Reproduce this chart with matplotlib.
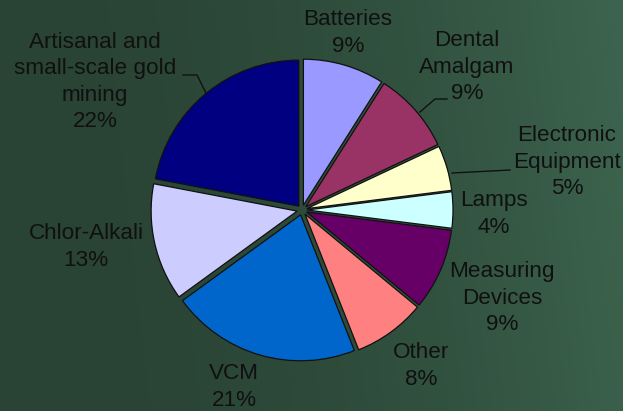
import numpy as np
import matplotlib
matplotlib.use("Agg")
import matplotlib.pyplot as plt

# ---- data ----
categories = ["Batteries", "Dental\nAmalgam", "Electronic\nEquipment", "Lamps",
              "Measuring\nDevices", "Other", "VCM", "Chlor-Alkali",
              "Artisanal and\nsmall-scale gold\nmining"]
values = [9, 9, 5, 4, 9, 8, 21, 13, 22]
colors = ["#9999FF", "#993366", "#FFFFCC", "#CCFFFF", "#660066",
          "#FF8080", "#0066CC", "#CCCCFF", "#000080"]

# ---- layout (pixel coordinates, y from top) ----
W, H = 623, 411
label_pos_px = [(348, 33), (467, 67), (567, 162), (494, 214), (502, 298),
                (421, 366), (234, 387), (86, 247), (95, 82)]
leaders_px = {
    "Artisanal": [(183, 75), (197, 75), (206, 93)],
    "Dental": [(447, 99), (435, 99), (420, 112)],
    "Electronic": [(510, 170), (452, 173)],
}

def px(x, y):
    return x, H - y

fig = plt.figure(figsize=(W / 100, H / 100), dpi=100)
ax = fig.add_axes([0, 0, 1, 1])

# background gradient
gx = np.linspace(0, 1, 300)
gy = np.linspace(0, 1, 200)
GX, GY = np.meshgrid(gx, gy)
t = np.clip(GX ** 2.0 * 0.9 + (1 - GY) * 0.15 * GX, 0, 1)
c0 = np.array([0x29, 0x43, 0x34]) / 255
c1 = np.array([0x3c, 0x63, 0x4d]) / 255
img = c0[None, None, :] * (1 - t[..., None]) + c1[None, None, :] * t[..., None]
ax.imshow(img, extent=(0, W, 0, H), origin="upper", aspect="auto", zorder=0)

cx, cy = px(302, 210)
wedges, _ = ax.pie(values, colors=colors, startangle=90, counterclock=False,
                   center=(cx, cy), radius=146, explode=[5] * len(values),
                   wedgeprops=dict(edgecolor="#111111", linewidth=0.9),
                   frame=True)
for w in wedges:
    w.set_zorder(2)
ax.set_xlim(0, W)
ax.set_ylim(0, H)
ax.set_aspect("equal")
ax.axis("off")

total = sum(values)
for cat, v, (lx, ly) in zip(categories, values, label_pos_px):
    x, y = px(lx, ly)
    ax.text(x, y, f"{cat}\n{round(100 * v / total)}%", ha="center", va="center",
            fontsize=16.2, family="Liberation Sans", color="#101010",
            linespacing=1.32, zorder=3)

for pts in leaders_px.values():
    xs, ys = zip(*[px(a, b) for a, b in pts])
    ax.plot(xs, ys, color="#111111", linewidth=1.0, zorder=3)

fig.savefig("out.png", dpi=100)
